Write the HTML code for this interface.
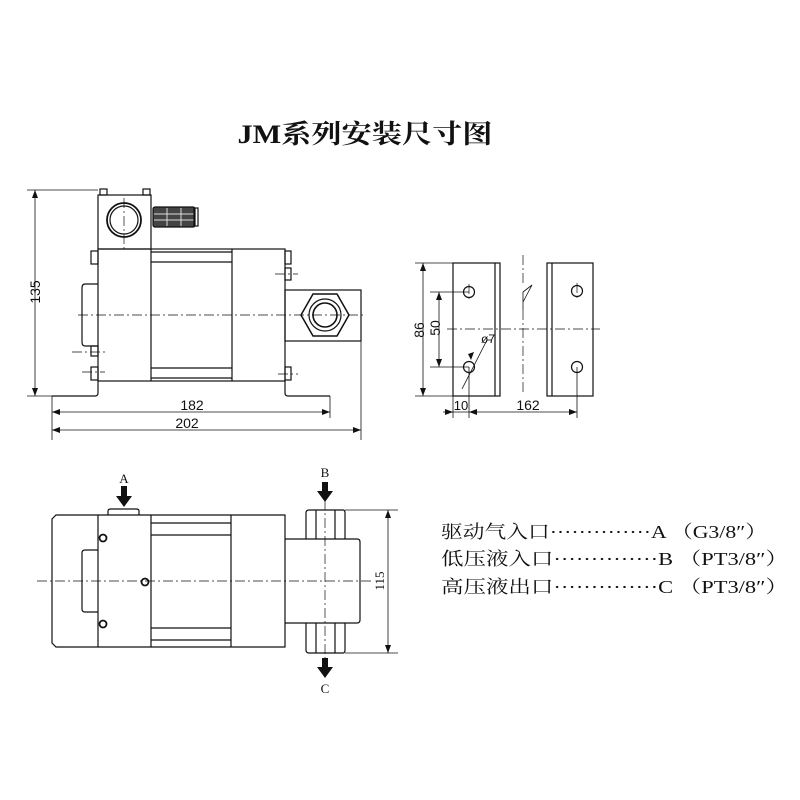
<!DOCTYPE html>
<html><head><meta charset="utf-8"><style>
html,body{margin:0;padding:0;background:#fff}
svg{display:block}
text{font-family:"Liberation Serif","Noto Serif CJK SC",serif;fill:#111}
.s{font-family:"Liberation Sans","DejaVu Sans",sans-serif}
</style></head><body>
<svg width="800" height="800" viewBox="0 0 800 800" xmlns="http://www.w3.org/2000/svg">
<g fill="none" stroke="#111" stroke-width="1.2">
<!-- ===== side view ===== -->
<rect x="100" y="189" width="7" height="6"/><rect x="143" y="189" width="7" height="6"/>
<rect x="98" y="195" width="53" height="54"/>
<circle cx="124" cy="220" r="17" stroke-width="1.8"/>
<circle cx="124" cy="220" r="14"/>
<rect x="153" y="207" width="42" height="20" fill="#444" rx="2"/>
<g stroke="#ddd" stroke-width="1"><line x1="167" y1="208" x2="167" y2="226"/><line x1="181" y1="208" x2="181" y2="226"/><line x1="154" y1="214" x2="194" y2="214"/><line x1="154" y1="220" x2="194" y2="220"/></g>
<rect x="194" y="208" width="4" height="18"/>
<rect x="98" y="249" width="187" height="132"/>
<line x1="151" y1="249" x2="151" y2="381"/><line x1="232" y1="249" x2="232" y2="381"/>
<line x1="151" y1="252" x2="232" y2="252"/><line x1="151" y1="262" x2="232" y2="262"/>
<line x1="151" y1="368" x2="232" y2="368"/><line x1="151" y1="378" x2="232" y2="378"/>
<path d="M98 284 H85 Q82 284 82 288 V342 Q82 346 85 346 H98"/>
<rect x="91" y="251" width="7" height="13"/><rect x="91" y="346" width="7" height="10"/><rect x="91" y="367" width="7" height="13"/>
<rect x="285" y="251" width="6" height="13"/><rect x="285" y="268" width="6" height="12"/><rect x="285" y="367" width="6" height="13"/>
<rect x="285" y="290" width="76" height="51"/>
<polygon points="313,294 337,294 349,315 337,336 313,336 301,315" stroke-width="1.5"/>
<circle cx="325" cy="315" r="16"/><circle cx="325" cy="315" r="12" stroke-width="1.6"/>
<path d="M52 396 H95 Q98 396 98 393 V381 M285 381 V393 Q285 396 288 396 H330"/>
<g stroke-width="0.8">
<line x1="27" y1="190" x2="98" y2="190"/><line x1="27" y1="396" x2="52" y2="396"/>
<line x1="35" y1="190" x2="35" y2="396"/>
<line x1="52" y1="396" x2="52" y2="440"/><line x1="330" y1="396" x2="330" y2="418"/><line x1="361" y1="341" x2="361" y2="440"/>
<line x1="52" y1="412" x2="330" y2="412"/><line x1="52" y1="430" x2="361" y2="430"/>
</g>
<g stroke-width="0.7" stroke-dasharray="10 3 2 3">
<line x1="78" y1="315" x2="365" y2="315"/><line x1="124" y1="198" x2="124" y2="251"/>
<line x1="72" y1="352" x2="105" y2="352"/><line x1="82" y1="372" x2="105" y2="372"/>
<line x1="275" y1="274" x2="298" y2="274"/><line x1="278" y1="374" x2="298" y2="374"/>
</g>
<!-- ===== bracket view ===== -->
<rect x="453" y="263" width="47" height="133"/><line x1="495" y1="263" x2="495" y2="396"/>
<rect x="547" y="263" width="46" height="133"/><line x1="552" y1="263" x2="552" y2="396"/>
<circle cx="469" cy="292" r="5.5"/><circle cx="469" cy="367" r="5.5"/>
<circle cx="577" cy="291" r="5.5"/><circle cx="577" cy="367" r="5.5"/>
<g stroke-width="0.8">
<line x1="415" y1="263" x2="453" y2="263"/><line x1="415" y1="396" x2="453" y2="396"/>
<line x1="423" y1="263" x2="423" y2="396"/>
<line x1="430" y1="292" x2="469" y2="292"/><line x1="430" y1="367" x2="469" y2="367"/>
<line x1="439" y1="292" x2="439" y2="367"/>
<line x1="453" y1="396" x2="453" y2="418"/><line x1="469" y1="367" x2="469" y2="418"/><line x1="577" y1="367" x2="577" y2="418"/>
<line x1="443" y1="412" x2="577" y2="412"/>
<line x1="462" y1="389" x2="487" y2="340"/><line x1="487" y1="340" x2="492" y2="340"/>
<path d="M523 302 L532 285 L523 292 L523 310"/>
</g>
<g stroke-width="0.7" stroke-dasharray="10 3 2 3">
<line x1="447" y1="329" x2="600" y2="329"/><line x1="523" y1="255" x2="523" y2="285"/><line x1="523" y1="310" x2="523" y2="392"/>
<line x1="469" y1="284" x2="469" y2="300"/><line x1="577" y1="283" x2="577" y2="299"/>
</g>
<!-- ===== top view ===== -->
<path d="M56 515 H285 V647 H56 L52 643 V519 Z"/>
<line x1="98" y1="515" x2="98" y2="647"/><line x1="151" y1="515" x2="151" y2="647"/><line x1="231" y1="515" x2="231" y2="647"/>
<line x1="151" y1="523" x2="231" y2="523"/><line x1="151" y1="535" x2="231" y2="535"/>
<line x1="151" y1="628" x2="231" y2="628"/><line x1="151" y1="640" x2="231" y2="640"/>
<path d="M98 550 H85 Q82 550 82 553 V609 Q82 612 85 612 H98"/>
<path d="M108 515 V511 Q108 509 111 509 H136 Q139 509 139 511 V515"/>
<path d="M285 539 H357 Q360 539 360 542 V620 Q360 623 357 623 H285"/>
<path d="M306 539 V513 Q306 510 309 510 H343 Q345 510 345 513 V539"/>
<path d="M306 623 V650 Q306 653 309 653 H343 Q345 653 345 650 V623"/>
<line x1="316" y1="510" x2="316" y2="539"/><line x1="335" y1="510" x2="335" y2="539"/>
<line x1="316" y1="623" x2="316" y2="653"/><line x1="335" y1="623" x2="335" y2="653"/>
<circle cx="103" cy="538" r="3.5" stroke-width="1.8"/><circle cx="145" cy="582" r="3.5" stroke-width="1.8"/><circle cx="103" cy="624" r="3.5" stroke-width="1.8"/>
<g stroke-width="0.8">
<line x1="345" y1="510" x2="398" y2="510"/><line x1="345" y1="653" x2="398" y2="653"/>
<line x1="388" y1="510" x2="388" y2="653"/>
</g>
<g stroke-width="0.7" stroke-dasharray="10 3 2 3">
<line x1="37" y1="581" x2="373" y2="581"/><line x1="325" y1="500" x2="325" y2="665"/>
</g>
</g>
<!-- arrowheads -->
<g fill="#111">
<polygon points="35,190 32,198 38,198"/><polygon points="35,396 32,388 38,388"/>
<polygon points="52,412 60,409 60,415"/><polygon points="330,412 322,409 322,415"/>
<polygon points="52,430 60,427 60,433"/><polygon points="361,430 353,427 353,433"/>
<polygon points="423,263 420,271 426,271"/><polygon points="423,396 420,388 426,388"/>
<polygon points="439,292 436,300 442,300"/><polygon points="439,367 436,359 442,359"/>
<polygon points="453,412 445,409 445,415"/><polygon points="469,412 477,409 477,415"/><polygon points="577,412 569,409 569,415"/>
<polygon points="471,360 474,352 468,354"/>
<polygon points="388,510 385,518 391,518"/><polygon points="388,653 385,645 391,645"/>
<polygon points="121,486 127,486 127,496 132,496 124,507 116,496 121,496"/>
<polygon points="322,482 328,482 328,491 333,491 325,502 317,491 322,491"/>
<polygon points="322,658 328,658 328,667 333,667 325,678 317,667 322,667"/>
</g>
<!-- texts -->
<text x="365" y="143" text-anchor="middle" font-size="26" font-weight="bold" textLength="255" lengthAdjust="spacingAndGlyphs">JM系列安装尺寸图</text>
<text class="s" x="0" y="0" font-size="14" text-anchor="middle" transform="translate(40,292) rotate(-90)">135</text>
<text class="s" x="192" y="410" font-size="14" text-anchor="middle">182</text>
<text class="s" x="187" y="428" font-size="14" text-anchor="middle">202</text>
<text class="s" x="0" y="0" font-size="14" text-anchor="middle" transform="translate(424,330) rotate(-90)">86</text>
<text class="s" x="0" y="0" font-size="14" text-anchor="middle" transform="translate(440,328) rotate(-90)">50</text>
<text class="s" x="461" y="410" font-size="13" text-anchor="middle">10</text>
<text class="s" x="528" y="410" font-size="14" text-anchor="middle">162</text>
<text class="s" x="488" y="343" font-size="12" text-anchor="middle">ø7</text>
<text x="124" y="483" font-size="13" text-anchor="middle">A</text>
<text x="325" y="477" font-size="13" text-anchor="middle">B</text>
<text x="325" y="693" font-size="13" text-anchor="middle">C</text>
<text x="0" y="0" font-size="13" text-anchor="middle" transform="translate(384,581) rotate(-90)">115</text>
<g font-size="18">
<text x="441" y="538" textLength="326" lengthAdjust="spacingAndGlyphs">驱动气入口··············A （G3/8″）</text>
<text x="441" y="565" textLength="347" lengthAdjust="spacingAndGlyphs">低压液入口··············B （PT3/8″）</text>
<text x="441" y="593" textLength="347" lengthAdjust="spacingAndGlyphs">高压液出口··············C （PT3/8″）</text>
</g>
</svg>
</body></html>
